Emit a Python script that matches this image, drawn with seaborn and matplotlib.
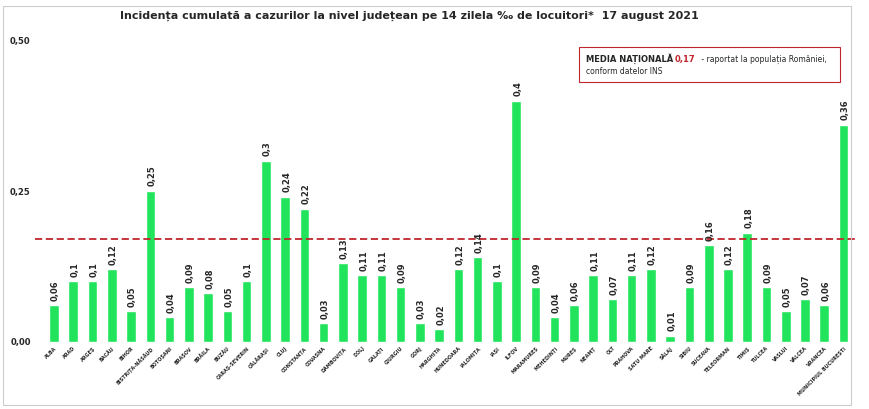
import matplotlib
matplotlib.use("Agg")
import matplotlib.pyplot as plt
import seaborn as sns
import pandas as pd

judete = ["ALBA", "ARAD", "ARGEȘ", "BACĂU", "BIHOR", "BISTRIȚA-NĂSĂUD", "BOTOȘANI", "BRAȘOV",
          "BRĂILA", "BUZĂU", "CARAȘ-SEVERIN", "CĂLĂRAȘI", "CLUJ", "CONSTANȚA", "COVASNA",
          "DÂMBOVIȚA", "DOLJ", "GALAȚI", "GIURGIU", "GORJ", "HARGHITA", "HUNEDOARA", "IALOMIȚA",
          "IAȘI", "ILFOV", "MARAMUREȘ", "MEHEDINȚI", "MUREȘ", "NEAMȚ", "OLT", "PRAHOVA",
          "SATU MARE", "SĂLAJ", "SIBIU", "SUCEAVA", "TELEORMAN", "TIMIȘ", "TULCEA", "VASLUI",
          "VÂLCEA", "VRANCEA", "MUNICIPIUL BUCUREȘTI"]
incidenta = [0.06, 0.1, 0.1, 0.12, 0.05, 0.25, 0.04, 0.09, 0.08, 0.05, 0.1, 0.3, 0.24, 0.22,
             0.03, 0.13, 0.11, 0.11, 0.09, 0.03, 0.02, 0.12, 0.14, 0.1, 0.4, 0.09, 0.04, 0.06,
             0.11, 0.07, 0.11, 0.12, 0.01, 0.09, 0.16, 0.12, 0.18, 0.09, 0.05, 0.07, 0.06, 0.36]
media = 0.17

df = pd.DataFrame({"judet": judete, "val": incidenta})

sns.set_style("white")
plt.rcParams["font.family"] = ["DejaVu Sans"]
fig = plt.figure(figsize=(8.7, 4.09), dpi=100)
ax = fig.add_axes([0.04, 0.165, 0.945, 0.735])
sns.barplot(data=df, x="judet", y="val", color="#22e45c", saturation=1, width=0.5, ax=ax)
for i, v in enumerate(incidenta):
    ax.text(i + 0.08, v + 0.008, f"{v:g}".replace(".", ","), rotation=90, ha="center",
            va="bottom", fontsize=6, fontweight="bold")
ax.axhline(media, color="#c0262d", ls=(0, (4, 2)), lw=1.3)
ax.set_ylim(0, 0.5)
ax.set_xlim(-1, len(judete) - 0.3)
ax.set_yticks([0, 0.25, 0.5])
ax.set_yticklabels(["0,00", "0,25", "0,50"], fontsize=6, fontweight="bold")
ax.set_xticks(range(len(judete)))
ax.set_xticklabels(judete, rotation=45, ha="right", rotation_mode="anchor", fontsize=3.5,
                   fontweight="bold")
ax.tick_params(length=0, pad=3)
ax.set_xlabel("")
ax.set_ylabel("")
sns.despine(ax=ax, left=True, bottom=True)
fig.text(0.47, 0.955, "Incidența cumulată a cazurilor la nivel județean pe 14 zilela ‰ de locuitori*  17 august 2021",
         ha="center", fontsize=8, fontweight="bold")
fig.text(0.673, 0.848, "MEDIA NAȚIONALĂ ", fontsize=6, fontweight="bold")
fig.text(0.776, 0.848, "0,17", fontsize=6, fontweight="bold", color="#c0262d")
fig.text(0.803, 0.848, " - raportat la populația României,", fontsize=5.5)
fig.text(0.673, 0.818, "conform datelor INS", fontsize=5.5)
fig.patches.append(plt.Rectangle((0.665, 0.8), 0.3, 0.085, transform=fig.transFigure,
                                 fill=False, edgecolor="#c0262d", lw=0.8))
fig.patches.append(plt.Rectangle((0.003, 0.01), 0.975, 0.975, transform=fig.transFigure,
                                 fill=False, edgecolor="#cccccc", lw=0.8))
fig.savefig("out.png", dpi=100)
